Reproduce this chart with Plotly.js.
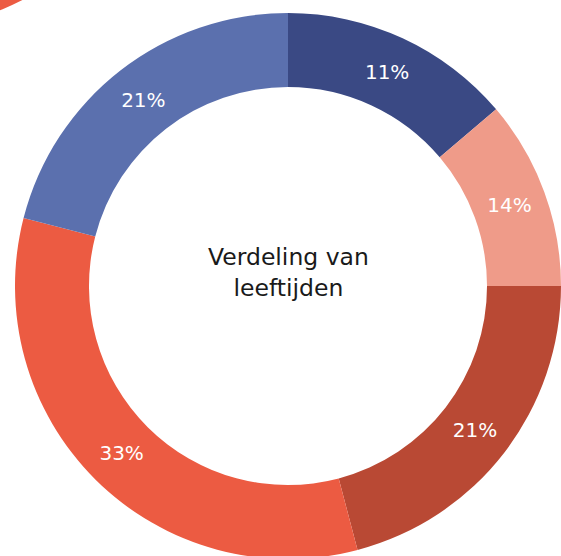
<!DOCTYPE html>
<html>
<head>
<meta charset="utf-8">
<script src="https://cdn.plot.ly/plotly-3.0.1.min.js"></script>
<style>
html,body{margin:0;padding:0;overflow:hidden;background:#fff;width:561px;height:556px;}
#chart{width:580px;height:580px;}
</style>
</head>
<body>
<div id="chart"></div>
<script>
// Age groups, clockwise from 12 o'clock
const categories = ["Groep 1", "Groep 2", "Groep 3", "Groep 4", "Groep 5"];
// Slice sizes (share of the circle, %)
const sliceValues = [13.8, 11.2, 20.9, 33.1, 21.0];
// Labels as printed on the slices
const sliceLabels = ["11%", "14%", "21%", "33%", "21%"];
const sliceColors = ["#3a4984", "#ef9b89", "#b94934", "#ec5b42", "#5b70ae"];
const centerTitle = "Verdeling van<br>leeftijden";

const trace = {
  type: "pie",
  labels: categories,
  values: sliceValues,
  text: sliceLabels,
  textinfo: "text",
  hoverinfo: "label+text",
  sort: false,
  direction: "clockwise",
  rotation: 0,
  hole: 0.729,
  textposition: "inside",
  insidetextorientation: "horizontal",
  insidetextfont: {family: "'DejaVu Sans', sans-serif", size: 20, color: "#ffffff"},
  marker: {colors: sliceColors, line: {width: 0}},
  showlegend: false
};

const layout = {
  width: 580,
  height: 580,
  margin: {l: 15, r: 19, t: 13, b: 21, pad: 0},
  paper_bgcolor: "#ffffff",
  plot_bgcolor: "#ffffff",
  showlegend: false,
  shapes: [{
    type: "circle", xref: "paper", yref: "paper",
    x0: -0.714, x1: 0.286, y0: 0.969, y1: 1.969,
    fillcolor: "#ec5b42", line: {width: 0}, layer: "above"
  }],
  annotations: [{
    text: centerTitle, xref: "paper", yref: "paper", x: 0.5, y: 0.5,
    xanchor: "center", yanchor: "middle", showarrow: false, yshift: 14,
    font: {family: "'DejaVu Sans', sans-serif", size: 23.5, color: "#1a1a1a"}
  }]
};

Plotly.newPlot("chart", [trace], layout, {displayModeBar: false, staticPlot: true});
</script>
</body>
</html>
